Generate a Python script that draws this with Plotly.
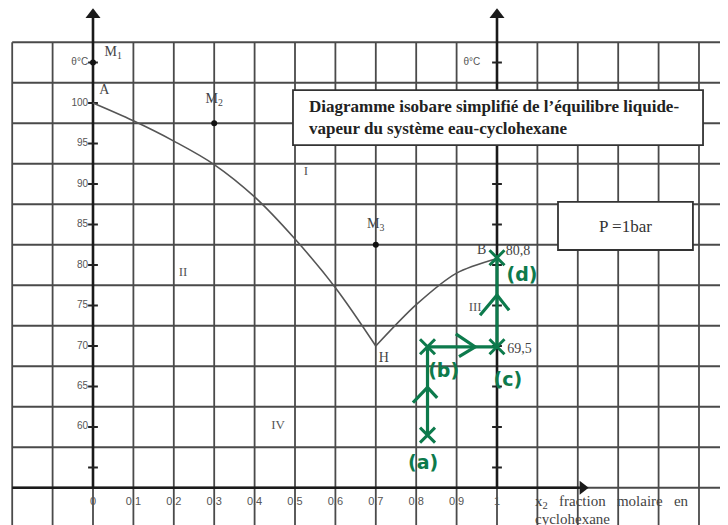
import plotly.graph_objects as go

# ---- data ----
liq_x = [0, 0.1, 0.2, 0.3, 0.4, 0.5, 0.6, 0.7]
liq_T = [100, 97.8, 95.3, 92.4, 88.4, 83.2, 77.2, 70.0]
vap_x = [0.7, 0.8, 0.9, 1.0]
vap_T = [70.0, 75.1, 79.0, 80.8]

points_x = [0, 0.3, 0.7]
points_T = [105, 97.5, 82.5]

y_ticks = [55, 60, 65, 70, 75, 80, 85, 90, 95, 100, 105]
y_tick_labels = ["", "60", "65", "70", "75", "80", "85", "90", "95", "100", "θ°C"]
x_ticks = [0, 0.1, 0.2, 0.3, 0.4, 0.5, 0.6, 0.7, 0.8, 0.9, 1]
x_tick_labels = ["0", "0.1", "0.2", "0.3", "0.4", "0.5", "0.6", "0.7", "0.8", "0.9", "1"]

grid_x = [-0.2 + 0.1 * i for i in range(19)]
grid_y = [47.5 + 5 * i for i in range(13)]

path_x = [0.828, 0.828, 1.0, 1.0]
path_T = [59.0, 69.9, 69.9, 80.9]
step_labels = ["(a)", "(b)", "(c)", "(d)"]
step_x = [0.817, 0.868, 1.027, 1.062]
step_T = [55.4, 66.8, 65.6, 78.6]

region_labels = ["I", "II", "III", "IV"]
region_x = [0.527, 0.223, 0.946, 0.458]
region_T = [91.5, 79.0, 74.7, 60.2]

point_labels = ["M<sub>1</sub>", "A", "M<sub>2</sub>", "M<sub>3</sub>", "B", "H", "80,8", "69,5"]
point_lx = [0.05, 0.028, 0.30, 0.70, 0.962, 0.72, 1.052, 1.056]
point_lT = [106.2, 101.5, 100.4, 85.0, 81.8, 68.4, 81.7, 69.6]

# page body has an 8px margin: figure is 720x517, placed at (8, 8)
XR = [-0.2104, 1.5718]
YR = [47.9, 111.73]
GREEN = "#0d7a4c"
SERIF = "Liberation Serif"

fig = go.Figure()

# grid
gx, gy = [], []
for x in grid_x:
    gx += [x, x, None]
    gy += [107.5, 40, None]
for y in grid_y:
    gx += [-0.2, 1.7, None]
    gy += [y, y, None]
fig.add_trace(go.Scatter(x=gx, y=gy, mode="lines", line=dict(color="#4a4a4a", width=1.8),
                         hoverinfo="skip", showlegend=False))

# axes
fig.add_trace(go.Scatter(x=[0, 0, None, 1, 1, None, -0.2, 1.205],
                         y=[52.5, 111.0, None, 52.5, 111.0, None, 52.5, 52.5],
                         mode="lines", line=dict(color="#1a1a1a", width=2.6),
                         hoverinfo="skip", showlegend=False))
fig.add_trace(go.Scatter(x=[0, 1], y=[110.9, 110.9], mode="markers",
                         marker=dict(symbol="triangle-up", size=13, color="#1a1a1a"),
                         hoverinfo="skip", showlegend=False))
fig.add_trace(go.Scatter(x=[1.212], y=[52.5], mode="markers",
                         marker=dict(symbol="triangle-right", size=12, color="#1a1a1a"),
                         hoverinfo="skip", showlegend=False))

# tick marks on both vertical axes
fig.add_trace(go.Scatter(x=[0] * len(y_ticks) + [1] * len(y_ticks), y=y_ticks + y_ticks,
                         mode="markers", marker=dict(symbol="line-ew", size=7,
                                                     line=dict(color="#222", width=2)),
                         hoverinfo="skip", showlegend=False))

# tick labels
fig.add_trace(go.Scatter(x=[-0.012] * len(y_ticks), y=y_ticks, mode="text",
                         text=y_tick_labels, textposition="middle left",
                         textfont=dict(family="Liberation Sans", size=10, color="#555"),
                         hoverinfo="skip", showlegend=False))
fig.add_trace(go.Scatter(x=[0.938], y=[105], mode="text", text=["θ°C"],
                         textposition="middle center",
                         textfont=dict(family="Liberation Sans", size=10, color="#555"),
                         hoverinfo="skip", showlegend=False))
fig.add_trace(go.Scatter(x=x_ticks, y=[50.7] * len(x_ticks), mode="text",
                         text=x_tick_labels, textposition="middle center",
                         textfont=dict(family="Liberation Sans", size=11, color="#555"),
                         hoverinfo="skip", showlegend=False))

# curves
fig.add_trace(go.Scatter(x=liq_x, y=liq_T, mode="lines",
                         line=dict(color="#555", width=1.6, shape="spline", smoothing=1.0),
                         hoverinfo="skip", showlegend=False))
fig.add_trace(go.Scatter(x=vap_x, y=vap_T, mode="lines",
                         line=dict(color="#555", width=1.6, shape="spline", smoothing=0.8),
                         hoverinfo="skip", showlegend=False))

# points
fig.add_trace(go.Scatter(x=points_x, y=points_T, mode="markers",
                         marker=dict(size=6, color="#111"), hoverinfo="skip", showlegend=False))

# labels
fig.add_trace(go.Scatter(x=point_lx, y=point_lT, mode="text", text=point_labels,
                         textposition="middle center",
                         textfont=dict(family=SERIF, size=14, color="#444"),
                         hoverinfo="skip", showlegend=False))
fig.add_trace(go.Scatter(x=region_x, y=region_T, mode="text", text=region_labels,
                         textposition="middle center",
                         textfont=dict(family=SERIF, size=13, color="#555"),
                         hoverinfo="skip", showlegend=False))

# x axis label
fig.add_annotation(x=1.09, y=50.8, xref="x", yref="y", xanchor="left", yanchor="middle",
                   text="x<sub>2</sub>   fraction   molaire   en", showarrow=False,
                   font=dict(family=SERIF, size=15, color="#444"))
fig.add_annotation(x=1.09, y=48.6, xref="x", yref="y", xanchor="left", yanchor="middle",
                   text="cyclohexane", showarrow=False,
                   font=dict(family=SERIF, size=15, color="#444"))

# title box
fig.add_shape(type="rect", x0=0.495, x1=1.51, y0=94.8, y1=101.6, xref="x", yref="y",
              fillcolor="white", line=dict(color="#333", width=1.8), layer="above")
fig.add_annotation(x=0.53, y=98.2, xref="x", yref="y", xanchor="left", yanchor="middle",
                   align="left", showarrow=False,
                   text="<b>Diagramme isobare simplifié de l’équilibre liquide-<br>vapeur du système eau-cyclohexane</b>",
                   font=dict(family=SERIF, size=17, color="#222"))

# pressure box
fig.add_shape(type="rect", x0=1.151, x1=1.485, y0=81.85, y1=87.8, xref="x", yref="y",
              fillcolor="white", line=dict(color="#333", width=1.8), layer="above")
fig.add_annotation(x=1.318, y=84.8, xref="x", yref="y", showarrow=False, text="P =1bar",
                   font=dict(family=SERIF, size=17, color="#333"))

# green hand-drawn path
fig.add_trace(go.Scatter(x=path_x, y=path_T, mode="lines", line=dict(color=GREEN, width=3.2),
                         hoverinfo="skip", showlegend=False))
fig.add_trace(go.Scatter(x=path_x[:2] + path_x[3:], y=path_T[:2] + path_T[3:], mode="markers",
                         marker=dict(symbol="x-thin", size=15, line=dict(color=GREEN, width=3)),
                         hoverinfo="skip", showlegend=False))
fig.add_trace(go.Scatter(x=[1.0], y=[69.9], mode="markers",
                         marker=dict(symbol="x-thin", size=15, line=dict(color=GREEN, width=3)),
                         hoverinfo="skip", showlegend=False))
# chevrons
chev_x = [0.792, 0.828, 0.852, None, 0.898, 0.946, 0.906, None, 0.958, 1.0, 1.03, None]
chev_T = [63.0, 64.9, 63.6, None, 71.5, 69.9, 68.7, None, 73.8, 76.3, 74.4, None]
fig.add_trace(go.Scatter(x=chev_x, y=chev_T, mode="lines", line=dict(color=GREEN, width=3.2),
                         hoverinfo="skip", showlegend=False))
fig.add_trace(go.Scatter(x=step_x, y=step_T, mode="text", text=["<b>%s</b>" % s for s in step_labels],
                         textposition="middle center",
                         textfont=dict(family="DejaVu Sans", size=19, color=GREEN),
                         hoverinfo="skip", showlegend=False))

fig.update_layout(width=720, height=517, margin=dict(l=0, r=0, t=0, b=0),
                  paper_bgcolor="white", plot_bgcolor="white",
                  xaxis=dict(range=XR, visible=False, fixedrange=True),
                  yaxis=dict(range=YR, visible=False, fixedrange=True),
                  showlegend=False)

fig.write_html("out.html")
